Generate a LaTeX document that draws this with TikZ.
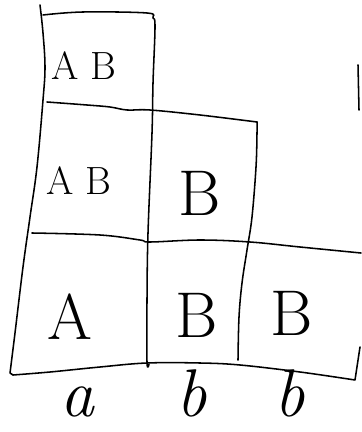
\documentclass[tikz,border=0pt]{standalone}
\usepackage{tikz}
\usetikzlibrary{positioning}

\begin{document}
\begin{tikzpicture}[x=0.025cm, y=-0.025cm] % one unit = one pixel of the sketch
		% Styles
		\tikzset{
			ink/.style={line width=1.1pt, line cap=round, line join=round, black},
			small/.style={inner sep=0pt, font=\fontsize{28}{32}\selectfont},
			big/.style={inner sep=0pt, font=\fontsize{46}{50}\selectfont},
			colname/.style={inner sep=0pt, font=\fontsize{48}{54}\selectfont\itshape}
		}
		\useasboundingbox (0,0) rectangle (361,432);
		
		% Left outline and bottom line
		\draw[ink] plot[smooth, tension=0.6] coordinates {(40,5) (43,33) (45,67) (43,100) (37,167) (30,217) (23,267) (15,333) (10,373)}
			-- (13,375);
		\draw[ink] plot[smooth, tension=0.6] coordinates {(13,375) (50,372) (100,367) (147,363) (200,363) (240,365) (300,372) (355,380)}
			-- (360,347);
		
		% Column a: top and right edge
		\draw[ink] plot[smooth, tension=0.6] coordinates {(43,15) (83,12) (147,13) (153,18) (155,27) (153,83) (152,133) (148,233) (147,300) (147,362) (149,364)};
		
		% First row line and right edge of column b
		\draw[ink] plot[smooth, tension=0.6] coordinates {(47,102) (87,105) (110,107) (127,110) (150,110) (200,115) (257,122)};
		\draw[ink] plot[smooth, tension=0.6] coordinates {(257,122) (257,133) (256,167) (252,217) (247,250) (242,283) (239,317) (238,360)};
		
		% Second row line
		\draw[ink] plot[smooth, tension=0.6] coordinates {(32,233) (100,235) (140,240) (150,242) (200,240) (250,242) (300,247) (361,253)};
		
		% Stroke cut at the right border
		\draw[ink] (358,65) -- (359,110);
		
		% Cell labels
		\node[small] (topAB) at (84,66) {A\hspace{0.3em}B};
		\node[small] (midAB) at (79,181) {A\hspace{0.3em}B};
		\node[big] (midB) at (200,193) {B};
		\node[big] (botA) at (70,317) {A};
		\node[big] (botB) at (197,315) {B};
		\node[big] (botC) at (292,313) {B};
		
		% Column names
		\node[colname] (nameA) at (77,402) {a};
		\node[colname] (nameB) at (192,393) {b};
		\node[colname] (nameC) at (290,393) {b};
		
	\end{tikzpicture}
\end{document}
